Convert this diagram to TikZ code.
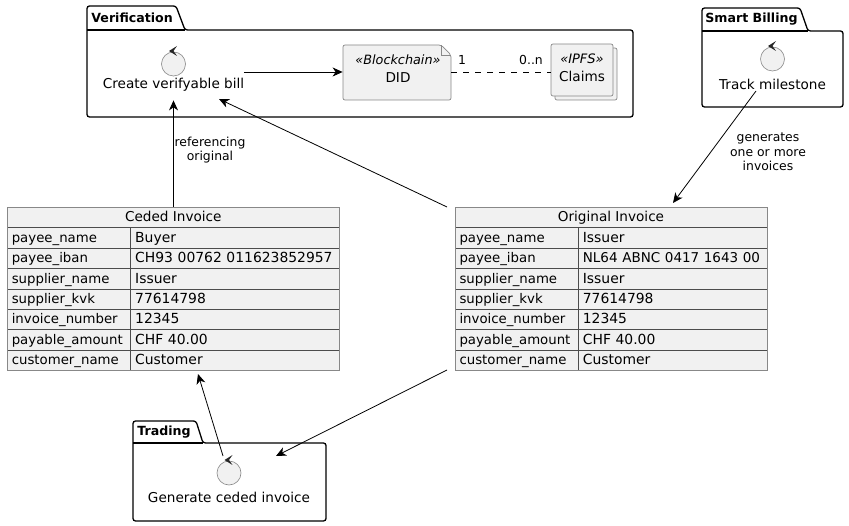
\documentclass[tikz,border=0pt]{standalone}
\usepackage{fontspec}
\setmainfont{DejaVu Sans}
\usetikzlibrary{arrows.meta,calc}
\definecolor{boxfill}{HTML}{F1F1F1}
\definecolor{boxline}{HTML}{888888}
\begin{document}
\begin{tikzpicture}[x=1pt,y=-1pt,>={Stealth[length=10pt,width=9pt,inset=3pt]},line width=.8pt,
 font=\fontsize{13.6}{16}\selectfont,
 pkg/.style={draw=black,line width=1.3pt,rounded corners=2.5pt},
 pkgname/.style={font=\fontsize{12.6}{15}\selectfont\bfseries,inner sep=0pt},
 ctl/.style={draw=boxline,fill=boxfill,circle,minimum size=24pt,inner sep=0pt,line width=.6pt},
 ctlhead/.style={fill=black!85},
 ctlarea/.style={inner sep=0pt,minimum width=140pt,minimum height=50pt},
 lbl/.style={inner sep=0pt,align=center,font=\fontsize{12.4}{14.5}\selectfont},
 ent/.style={draw=boxline,fill=boxfill,line width=.7pt,rounded corners=2pt},
 entxt/.style={inner sep=0pt,align=center},
 title/.style={draw=boxline,fill=boxfill,line width=.6pt,minimum width=#1,minimum height=20.4pt,inner sep=0pt,text height=12pt,text depth=3pt},
 key/.style={draw=black!70,fill=boxfill,line width=.5pt,minimum width=123.4pt,minimum height=20.4pt,inner sep=0pt,text width=114.4pt,align=left,text height=12pt,text depth=3pt,font=\fontsize{13.3}{16}\selectfont},
 val/.style={draw=black!70,fill=boxfill,line width=.5pt,minimum width=#1,minimum height=20.4pt,inner sep=0pt,text width=#1-9pt,align=left,text height=12pt,text depth=3pt,font=\fontsize{13.9}{16}\selectfont},
 frame/.style={draw=boxline,line width=.8pt,minimum width=#1,minimum height=163.4pt,inner sep=0pt}]
\useasboundingbox (0,0) rectangle (849,526);
% Packages.
\draw[pkg] (87,30) -- (87,6) -- (176,6) -- (185,30) -- (633,30) -- (633,117) -- (87,117) -- cycle;
\draw[pkg] (87,30) -- (185,30);
\node[pkgname,anchor=west] (verif) at (91,18) {Verification};
\draw[pkg] (702,31) -- (702,8) -- (800,8) -- (808,31) -- (843,31) -- (843,107) -- (702,107) -- cycle;
\draw[pkg] (702,31) -- (808,31);
\node[pkgname,anchor=west] (billing) at (705,19) {Smart Billing};
\draw[pkg] (133,443) -- (133,421) -- (196,421) -- (203,443) -- (326,443) -- (326,521) -- (133,521) -- cycle;
\draw[pkg] (133,443) -- (203,443);
\node[pkgname,anchor=west] (trading) at (137,432) {Trading};
% Controls, each one with an empty area that the arrows stop at.
\node[ctlarea] (bill) at (173.5,75) {};
\node[ctl] (billc) at (173.5,64) {};
\fill[ctlhead,shift={(billc.center)}] (-4.5,-13) -- (3.5,-18) -- (0,-13) -- (3.5,-8) -- cycle;
\node[inner sep=0pt] (billt) at (173.5,85) {Create verifyable bill};
\node[ctlarea,minimum width=110pt] (track) at (772.5,72) {};
\node[ctl] (trackc) at (772.5,59) {};
\fill[ctlhead,shift={(trackc.center)}] (-4.5,-13) -- (3.5,-18) -- (0,-13) -- (3.5,-8) -- cycle;
\node[inner sep=0pt] (trackt) at (772.5,84) {Track milestone};
\node[ctlarea,minimum width=160pt] (gen) at (229,484) {};
\node[ctl] (genc) at (229,473) {};
\fill[ctlhead,shift={(genc.center)}] (-4.5,-13) -- (3.5,-18) -- (0,-13) -- (3.5,-8) -- cycle;
\node[inner sep=0pt] (gent) at (229,497) {Generate ceded invoice};
% Artifact and collection.
\draw[ent] (343,45) -- (441,45) -- (451,55) -- (451,100) -- (343,100) -- cycle;
\draw[draw=boxline,line width=.5pt] (441,45) -- (441,55) -- (451,55);
\node[inner sep=0pt,minimum width=108pt,minimum height=55pt] (did) at (397,72) {};
\node[entxt] (didt) at (398,69) {\fontsize{12.8}{15}\selectfont\itshape «Blockchain»\\[2pt]\fontsize{13.6}{16}\selectfont DID};
\draw[ent] (555,48) rectangle (617,100);
\draw[ent] (551,44) rectangle (613,96);
\node[inner sep=0pt,minimum width=66pt,minimum height=56pt] (claims) at (584,72) {};
\node[entxt] (claimst) at (582,68) {\fontsize{13}{15}\selectfont\itshape «IPFS»\\[2pt]\fontsize{13.6}{16}\selectfont Claims};
% Ceded invoice table.
\node[title=332pt] (cedt) at (173.3,217.5) {Ceded Invoice};
\node[key] (ced1k) at (69,237.9) {payee\_name};
\node[val=208.6pt] (ced1v) at (235,237.9) {Buyer};
\node[key] (ced2k) at (69,258.3) {payee\_iban};
\node[val=208.6pt] (ced2v) at (235,258.3) {CH93 00762 011623852957};
\node[key] (ced3k) at (69,278.7) {supplier\_name};
\node[val=208.6pt] (ced3v) at (235,278.7) {Issuer};
\node[key] (ced4k) at (69,299.1) {supplier\_kvk};
\node[val=208.6pt] (ced4v) at (235,299.1) {77614798};
\node[key] (ced5k) at (69,319.5) {invoice\_number};
\node[val=208.6pt] (ced5v) at (235,319.5) {12345};
\node[key] (ced6k) at (69,339.9) {payable\_amount};
\node[val=208.6pt] (ced6v) at (235,339.9) {CHF 40.00};
\node[key] (ced7k) at (69,360.3) {customer\_name};
\node[val=208.6pt] (ced7v) at (235,360.3) {Customer};
\node[frame=332pt] (ceded) at (173.3,289) {};
% Original invoice table.
\node[title=312pt] (orit) at (611,217.5) {Original Invoice};
\node[key] (ori1k) at (516.7,237.9) {payee\_name};
\node[val=188.7pt] (ori1v) at (672.7,237.9) {Issuer};
\node[key] (ori2k) at (516.7,258.3) {payee\_iban};
\node[val=188.7pt] (ori2v) at (672.7,258.3) {\fontsize{13.5}{16}\selectfont NL64 ABNC 0417 1643 00};
\node[key] (ori3k) at (516.7,278.7) {supplier\_name};
\node[val=188.7pt] (ori3v) at (672.7,278.7) {Issuer};
\node[key] (ori4k) at (516.7,299.1) {supplier\_kvk};
\node[val=188.7pt] (ori4v) at (672.7,299.1) {77614798};
\node[key] (ori5k) at (516.7,319.5) {invoice\_number};
\node[val=188.7pt] (ori5v) at (672.7,319.5) {12345};
\node[key] (ori6k) at (516.7,339.9) {payable\_amount};
\node[val=188.7pt] (ori6v) at (672.7,339.9) {CHF 40.00};
\node[key] (ori7k) at (516.7,360.3) {customer\_name};
\node[val=188.7pt] (ori7v) at (672.7,360.3) {Customer};
\node[frame=312pt] (orig) at (611,289) {};
% Free ends just off the boxes.
\coordinate (origup) at (447,207);
\coordinate (origdn) at (447,370);
\coordinate (billin) at (219,99);
\coordinate (genin) at (276,456);
\coordinate (genout) at (223,456);
\coordinate (cedin) at (198,374);
\coordinate (trackout) at (756,91);
\coordinate (origin) at (673,203);
% Connectors.
\draw[->] (bill.east |- did.west) -- (did.west);
\draw[dash pattern=on 6pt off 6pt] (did.east) -- (claims.west);
\node[lbl] (one) at (462,60) {1};
\node[lbl] (many) at (531,60) {0..n};
\draw[->] (ceded.north -| bill.south) -- (bill.south);
\node[lbl] (refs) at (210,150) {referencing\\original};
\draw[->] (origup) -- (billin);
\draw[->] (trackout) -- (origin);
\node[lbl] (gens) at (768,152) {generates\\one or more\\invoices};
\draw[->] (origdn) -- (genin);
\draw[->] (genout) -- (cedin);
\end{tikzpicture}
\end{document}
